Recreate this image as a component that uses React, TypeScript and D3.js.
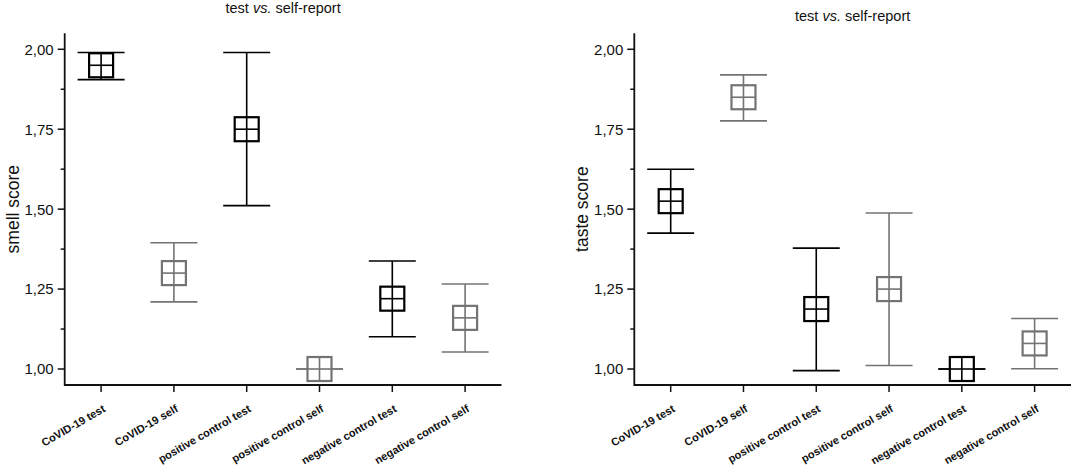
import React from 'react';
import * as d3 from 'd3';

const categories = [
  'CoVID-19 test',
  'CoVID-19 self',
  'positive control test',
  'positive control self',
  'negative control test',
  'negative control self',
];

// test groups are drawn black, self-report groups gray
const groupKind = ['test', 'self', 'test', 'self', 'test', 'self'];

const smellMean = [1.95, 1.3, 1.75, 1.0, 1.22, 1.16];
const smellUpper = [1.99, 1.395, 1.99, 1.0, 1.338, 1.266];
const smellLower = [1.905, 1.21, 1.511, 1.0, 1.101, 1.053];

const tasteMean = [1.525, 1.85, 1.1875, 1.25, 1.0, 1.08];
const tasteUpper = [1.625, 1.92, 1.378, 1.488, 1.0, 1.158];
const tasteLower = [1.425, 1.776, 0.995, 1.011, 1.0, 1.001];

const majorTicks = [1.0, 1.25, 1.5, 1.75, 2.0];
const minorTicks = [1.125, 1.375, 1.625, 1.875];

const FONT = 'Arial, "Liberation Sans", Helvetica, sans-serif';
const colors: Record<string, string> = { test: '#000000', self: '#737373' };

interface PanelProps {
  left: number;
  right: number;
  titleY: number;
  yLabel: string;
  mean: number[];
  upper: number[];
  lower: number[];
}

const Panel = ({ left, right, titleY, yLabel, mean, upper, lower }: PanelProps) => {
  const top = 33.3;
  const bottom = 385;

  const y = d3.scaleLinear().domain([0.95, 2.05]).range([bottom, top]);
  const x = d3.scaleBand<string>().domain(categories).range([left, right]).padding(0);
  const cx = (c: string) => (x(c) ?? 0) + x.bandwidth() / 2;

  const fmt = (v: number) => d3.format('.2f')(v).replace('.', ',');
  const capHalf = 23.5;
  const boxHalf = 12;

  return (
    <g>
      <text
        x={(left + right) / 2}
        y={titleY}
        textAnchor="middle"
        fontSize={14.5}
        fontFamily={FONT}
        fill="#111"
      >
        test <tspan fontStyle="italic">vs.</tspan> self-report
      </text>

      {/* axes */}
      <path
        d={`M${left},${top}V${bottom}H${right}`}
        fill="none"
        stroke="#111"
        strokeWidth={1.8}
      />
      {majorTicks.map(t => (
        <g key={`maj-${t}`}>
          <line x1={left - 7} x2={left} y1={y(t)} y2={y(t)} stroke="#111" strokeWidth={1.5} />
          <text
            x={left - 11}
            y={y(t)}
            dy="0.36em"
            textAnchor="end"
            fontSize={15}
            fontFamily={FONT}
            fill="#111"
          >
            {fmt(t)}
          </text>
        </g>
      ))}
      {minorTicks.map(t => (
        <line key={`min-${t}`} x1={left - 4} x2={left} y1={y(t)} y2={y(t)} stroke="#111" strokeWidth={1.5} />
      ))}
      <text
        transform={`translate(${left - 52},${(top + bottom) / 2}) rotate(-90)`}
        textAnchor="middle"
        dy="0.35em"
        fontSize={17.5}
        fontFamily={FONT}
        fill="#111"
      >
        {yLabel}
      </text>

      {categories.map(c => (
        <g key={`xt-${c}`}>
          <line x1={cx(c)} x2={cx(c)} y1={bottom} y2={bottom + 7} stroke="#111" strokeWidth={1.5} />
          <text
            transform={`translate(${cx(c) + 5},${bottom + 26}) rotate(-30)`}
            textAnchor="end"
            fontSize={11}
            fontWeight="bold"
            fontFamily={FONT}
            fill="#111"
          >
            {c}
          </text>
        </g>
      ))}

      {/* error bars with square-cross markers */}
      {categories.map((c, i) => {
        const col = colors[groupKind[i]];
        const px = cx(c);
        const py = y(mean[i]);
        return (
          <g key={`m-${c}`} stroke={col} fill="none">
            <line x1={px} x2={px} y1={y(upper[i])} y2={y(lower[i])} strokeWidth={1.6} />
            <line x1={px - capHalf} x2={px + capHalf} y1={y(upper[i])} y2={y(upper[i])} strokeWidth={1.6} />
            <line x1={px - capHalf} x2={px + capHalf} y1={y(lower[i])} y2={y(lower[i])} strokeWidth={1.6} />
            <rect
              x={px - boxHalf}
              y={py - boxHalf}
              width={boxHalf * 2}
              height={boxHalf * 2}
              fill="white"
              strokeWidth={2.2}
            />
            <line x1={px - boxHalf} x2={px + boxHalf} y1={py} y2={py} strokeWidth={1.6} />
            <line x1={px} x2={px} y1={py - boxHalf} y2={py + boxHalf} strokeWidth={1.6} />
          </g>
        );
      })}
    </g>
  );
};

export default function App() {
  return (
    <svg
      width={1074}
      height={467}
      style={{ position: 'absolute', left: 0, top: 0, background: 'white' }}
    >
      <Panel
        left={64.7}
        right={501.5}
        titleY={12.5}
        yLabel="smell score"
        mean={smellMean}
        upper={smellUpper}
        lower={smellLower}
      />
      <Panel
        left={634.3}
        right={1071}
        titleY={21}
        yLabel="taste score"
        mean={tasteMean}
        upper={tasteUpper}
        lower={tasteLower}
      />
    </svg>
  );
}
